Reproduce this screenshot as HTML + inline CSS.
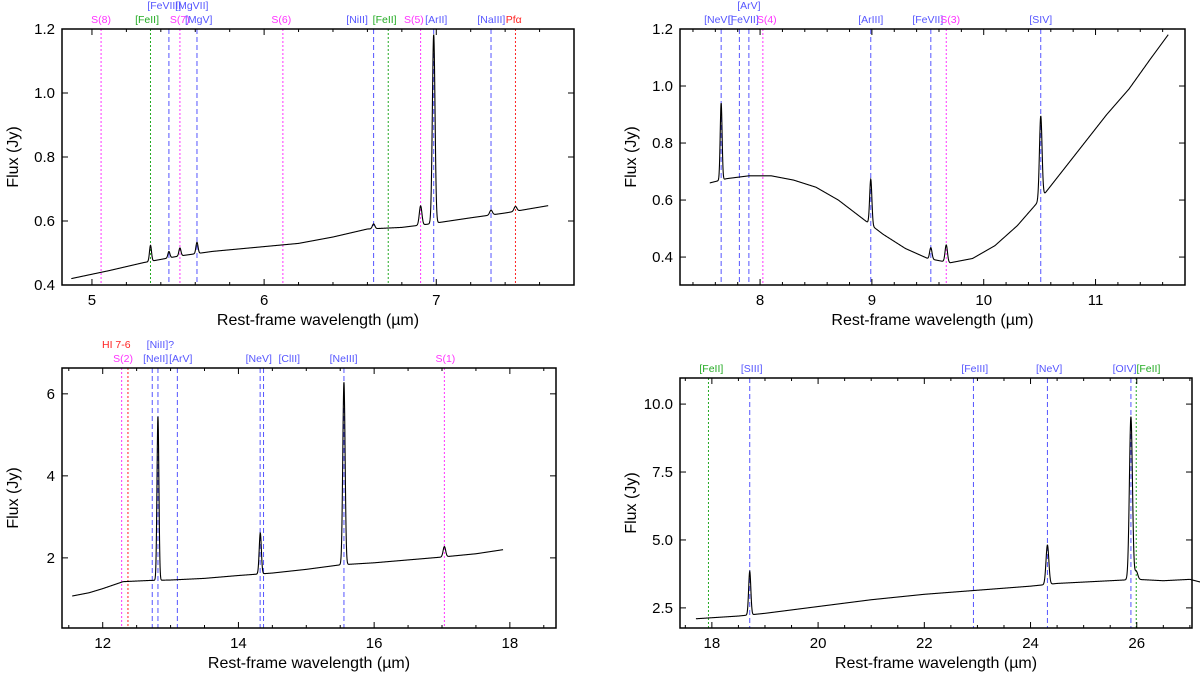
<!DOCTYPE html>
<html><head><meta charset="utf-8"><style>
body{margin:0;background:#fff;}
svg{display:block;font-family:"Liberation Sans",sans-serif;}
</style></head><body>
<svg id="c" width="1200" height="678"></svg>
<script>
// ---- Panel A (top-left) data ----
const contA_x=[4.88,5.1,5.3,5.5,5.7,6.0,6.2,6.4,6.6,6.8,6.95,7.2,7.4,7.65];
const contA_y=[0.42,0.445,0.47,0.49,0.505,0.52,0.53,0.55,0.575,0.58,0.59,0.61,0.625,0.648];
const lineA_x=[5.34,5.447,5.511,5.61,6.636,6.909,6.985,7.318,7.46];
const lineA_h=[0.05,0.02,0.025,0.035,0.015,0.06,0.59,0.015,0.015];
// ---- Panel B (top-right) ----
const contB_x=[7.55,7.7,7.9,8.1,8.3,8.5,8.7,8.9,9.1,9.3,9.5,9.7,9.9,10.1,10.3,10.5,10.7,10.9,11.1,11.3,11.5,11.65];
const contB_y=[0.66,0.675,0.685,0.685,0.67,0.645,0.6,0.54,0.48,0.43,0.395,0.38,0.395,0.44,0.51,0.6,0.7,0.8,0.9,0.99,1.1,1.18];
const lineB_x=[7.652,8.99,9.527,9.665,10.51];
const lineB_h=[0.27,0.16,0.04,0.06,0.29];
// ---- Panel C (bottom-left) ----
const contC_x=[11.55,11.8,12.0,12.3,12.7,13.0,13.5,14.0,14.5,15.0,15.5,16.0,16.5,17.0,17.5,17.9];
const contC_y=[1.07,1.15,1.25,1.42,1.45,1.46,1.5,1.57,1.63,1.72,1.83,1.88,1.95,2.02,2.1,2.2];
const lineC_x=[12.814,14.322,15.555,17.035];
const lineC_h=[4.0,1.0,4.45,0.25];
// ---- Panel D (bottom-right) ----
const contD_x=[17.7,18.5,19,20,21,22,23,24,24.5,25,25.5,26,26.5,27,27.3];
const contD_y=[2.1,2.2,2.3,2.55,2.8,3.0,3.15,3.3,3.4,3.45,3.5,3.55,3.5,3.55,3.4];
const lineD_x=[18.713,24.318,25.89,25.99];
const lineD_h=[1.6,1.45,6.0,0.3];

const panels=[
 {id:'a',L:62,R:574,T:29,B:285,x0:4.826,x1:7.80,y0:0.4,y1:1.2,xt:[5,6,7],xm:0.2,yt:[0.4,0.6,0.8,1.0,1.2],yf:1,cx:contA_x,cy:contA_y,lx:lineA_x,lh:lineA_h,
  marks:[[5.053,'m'],[5.34,'g'],[5.447,'b'],[5.511,'m'],[5.61,'b'],[6.109,'m'],[6.636,'b'],[6.721,'g'],[6.909,'m'],[6.985,'b'],[7.318,'b'],[7.46,'r']],
  labels:[['S(8)',5.053,0,'m'],['[FeII]',5.32,0,'g'],['[FeVIII]',5.42,1,'b'],['[MgVII]',5.58,1,'b'],['S(7)',5.51,0,'m'],['[MgV]',5.62,0,'b'],['S(6)',6.10,0,'m'],['[NiII]',6.54,0,'b'],['[FeII]',6.70,0,'g'],['S(5)',6.87,0,'m'],['[ArII]',7.0,0,'b'],['[NaIII]',7.32,0,'b'],['Pfα',7.45,0,'r']]},
 {id:'b',L:680,R:1185,T:29,B:285,x0:7.284,x1:11.80,y0:0.302,y1:1.2,xt:[8,9,10,11],xm:0.2,yt:[0.4,0.6,0.8,1.0,1.2],yf:1,cx:contB_x,cy:contB_y,lx:lineB_x,lh:lineB_h,
  marks:[[7.652,'b'],[7.815,'b'],[7.90,'b'],[8.025,'m'],[8.99,'b'],[9.527,'b'],[9.665,'m'],[10.51,'b']],
  labels:[['[NeVI]',7.63,0,'b'],['[FeVII]',7.85,0,'b'],['[ArV]',7.90,1,'b'],['S(4)',8.06,0,'m'],['[ArIII]',8.99,0,'b'],['[FeVII]',9.5,0,'b'],['S(3)',9.7,0,'m'],['[SIV]',10.51,0,'b']]},
 {id:'c',L:62,R:556,T:368,B:628,x0:11.40,x1:18.68,y0:0.29,y1:6.63,xt:[12,14,16,18],xm:0.5,yt:[2,4,6],yf:0,cx:contC_x,cy:contC_y,lx:lineC_x,lh:lineC_h,
  marks:[[12.279,'m'],[12.372,'r'],[12.73,'b'],[12.814,'b'],[13.10,'b'],[14.32,'b'],[14.37,'b'],[15.555,'b'],[17.035,'m']],
  labels:[['HI 7-6',12.2,1,'r'],['[NiII]?',12.85,1,'b'],['S(2)',12.3,0,'m'],['[NeII]',12.78,0,'b'],['[ArV]',13.15,0,'b'],['[NeV]',14.3,0,'b'],['[ClII]',14.75,0,'b'],['[NeIII]',15.55,0,'b'],['S(1)',17.05,0,'m']]},
 {id:'d',L:680,R:1192,T:378,B:628,x0:17.4,x1:27.04,y0:1.76,y1:10.96,xt:[18,20,22,24,26],xm:0.5,yt:[2.5,5,7.5,10],yf:1,cx:contD_x,cy:contD_y,lx:lineD_x,lh:lineD_h,
  marks:[[17.936,'g'],[18.713,'b'],[22.925,'b'],[24.318,'b'],[25.89,'b'],[25.99,'g']],
  labels:[['[FeII]',17.99,0,'g'],['[SIII]',18.75,0,'b'],['[FeIII]',22.95,0,'b'],['[NeV]',24.35,0,'b'],['[OIV]',25.77,0,'b'],['[FeII]',26.22,0,'g']]}
];
const col={m:'#ff33ff',g:'#22aa22',b:'#5555ff',r:'#ff2222'};
const NS='http://www.w3.org/2000/svg';
const svg=document.getElementById('c');
function mk(t,a,p){const e=document.createElementNS(NS,t);for(const k in a)e.setAttribute(k,a[k]);(p||svg).appendChild(e);return e;}
function interp(xs,ys,x){if(x<=xs[0])return ys[0];for(let i=1;i<xs.length;i++){if(x<=xs[i]){const t=(x-xs[i-1])/(xs[i]-xs[i-1]);return ys[i-1]+t*(ys[i]-ys[i-1]);}}return ys[ys.length-1];}
panels.forEach(p=>{
 const g=mk('g',{});
 
 
 const X=v=>p.L+(v-p.x0)/(p.x1-p.x0)*(p.R-p.L);
 const Y=v=>p.B-(v-p.y0)/(p.y1-p.y0)*(p.B-p.T);
 p.marks.forEach(m=>{const l=mk('line',{x1:X(m[0]),x2:X(m[0]),y1:p.T,y2:p.B,stroke:col[m[1]],'stroke-width':1,'stroke-dasharray':m[1]=='b'?'5,3':'2,2'},g);
  });
 let d='';const n=2500;const xs=p.cx[0],xe=p.cx[p.cx.length-1];
 for(let i=0;i<=n;i++){const x=xs+(xe-xs)*i/n;let y=interp(p.cx,p.cy,x);
  p.lx.forEach((c,j)=>{const s=c*0.0011;y+=p.lh[j]*Math.exp(-0.5*((x-c)/s)**2);});
  d+=(i?'L':'M')+X(x).toFixed(2)+','+Y(y).toFixed(2);}
 const sp=mk('path',{d:d,fill:'none',stroke:'#000','stroke-width':1.1},g);
 
 const fr=mk('rect',{x:p.L,y:p.T,width:p.R-p.L,height:p.B-p.T,fill:'none',stroke:'#000','stroke-width':1.5},g);
 
 for(let v=Math.ceil(p.x0/p.xm)*p.xm;v<=p.x1;v+=p.xm){const maj=p.xt.some(t=>Math.abs(t-v)<1e-6);const L=maj?6:3;
  mk('line',{x1:X(v),x2:X(v),y1:p.B,y2:p.B-L,stroke:'#000'},g);mk('line',{x1:X(v),x2:X(v),y1:p.T,y2:p.T+L,stroke:'#000'},g);}
 p.xt.forEach(v=>{const t=mk('text',{x:X(v),y:p.B+20,'text-anchor':'middle','font-size':15},g);t.textContent=v;
  });
 p.yt.forEach(v=>{mk('line',{x1:p.L,x2:p.L+6,y1:Y(v),y2:Y(v),stroke:'#000'},g);mk('line',{x1:p.R,x2:p.R-6,y1:Y(v),y2:Y(v),stroke:'#000'},g);
  const t=mk('text',{x:p.L-7,y:Y(v)+5,'text-anchor':'end','font-size':15},g);t.textContent=v.toFixed(p.yf);
  });
 const xl=mk('text',{x:(p.L+p.R)/2,y:p.B+40,'text-anchor':'middle','font-size':16},g);xl.textContent='Rest-frame wavelength (µm)';
 
 const yx=p.L-44,yy=(p.T+p.B)/2;
 const yl=mk('text',{x:yx,y:yy,'text-anchor':'middle','font-size':16,transform:`rotate(-90 ${yx} ${yy})`},g);yl.textContent='Flux (Jy)';
 
 p.labels.forEach(l=>{const t=mk('text',{x:X(l[1]),y:p.T-6-l[2]*14,'text-anchor':'middle','font-size':10.5,fill:col[l[3]]},g);t.textContent=l[0];
  });
});
</script>
</body></html>
